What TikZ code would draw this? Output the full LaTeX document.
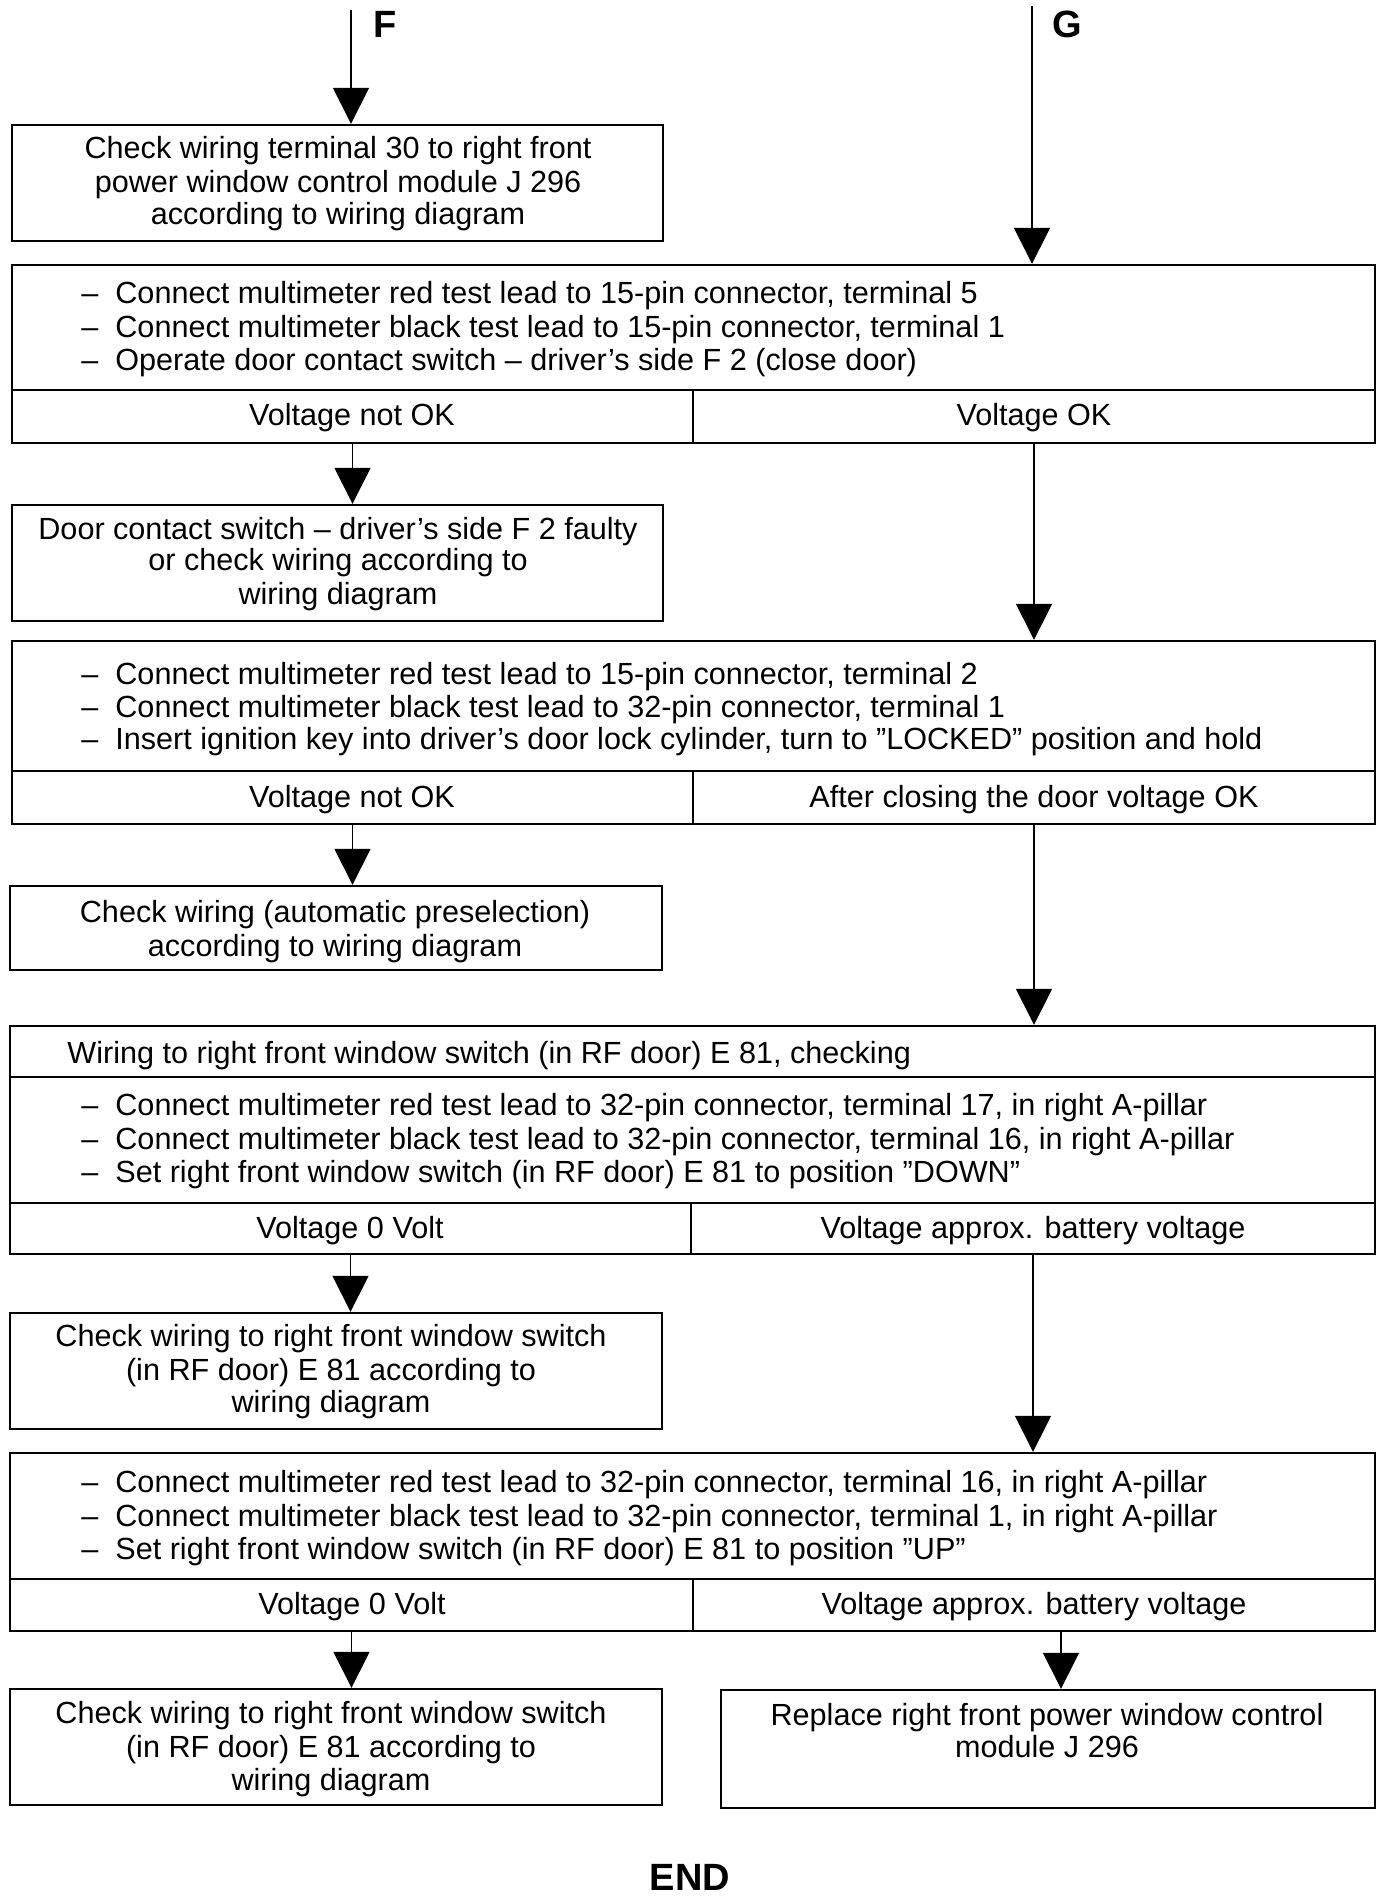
\documentclass[tikz,border=0pt]{standalone}
\usepackage{fontspec}
\setmainfont{Liberation Sans}
\usetikzlibrary{arrows.meta}
\newcommand{\bx}[5]{\node[box, minimum width={(#4-#2)*0.5pt}, minimum height={(#5-#3)*0.5pt}] (#1) at ({(#2+#4)/2},{(#3+#5)/2}) {};}
\newcommand{\tc}[4]{\node[txt, anchor=base] (#1) at (#2,#3) {#4};}
\newcommand{\tli}[3]{\node[txt, anchor=base west] (#1d) at (81,#2) {–};\node[txt, anchor=base west] (#1) at (115,#2) {#3};}
\begin{document}
\begin{tikzpicture}[x=0.5pt,y=-0.5pt,
  box/.style={draw, line width=1.2pt, inner sep=0pt, rectangle},
  txt/.style={inner sep=0pt, font=\fontsize{15.3}{18}\selectfont},
  lbl/.style={inner sep=0pt, font=\bfseries\fontsize{19}{22}\selectfont},
  flow/.style={line width=0.8pt, -{Triangle[width=18pt,length=18pt]}},
]
\useasboundingbox (0,0) rectangle (1392,1898);
% boxes
\bx{b1}{12}{125}{663}{241}
\bx{b2}{12}{265}{1375}{390}
\bx{b2l}{12}{390}{693}{443}
\bx{b2r}{693}{390}{1375}{443}
\bx{b3}{12}{505}{663}{621}
\bx{b4}{12}{641}{1375}{771}
\bx{b4l}{12}{771}{693}{824}
\bx{b4r}{693}{771}{1375}{824}
\bx{b5}{10}{886}{662}{970}
\bx{b6h}{10}{1026}{1375}{1077}
\bx{b6}{10}{1077}{1375}{1203}
\bx{b6l}{10}{1203}{691}{1254}
\bx{b6r}{691}{1203}{1375}{1254}
\bx{b7}{10}{1313}{662}{1429}
\bx{b8}{10}{1453}{1375}{1579}
\bx{b8l}{10}{1579}{693}{1631}
\bx{b8r}{693}{1579}{1375}{1631}
\bx{b9}{10}{1689}{662}{1805}
\bx{b10}{721}{1690}{1375}{1808}
% texts
\tc{t1a}{338}{159}{Check wiring terminal 30 to right front}
\tc{t1b}{338}{193}{power window control module J 296}
\tc{t1c}{338}{225}{according to wiring diagram}
\tli{t2a}{304}{Connect multimeter red test lead to 15-pin connector, terminal 5}
\tli{t2b}{338}{Connect multimeter black test lead to 15-pin connector, terminal 1}
\tli{t2c}{371}{Operate door contact switch – driver’s side F 2 (close door)}
\tc{t2l}{352}{426}{Voltage not OK}
\tc{t2r}{1034}{426}{Voltage OK}
\tc{t3a}{338}{539}{Door contact switch – driver’s side F 2 faulty}
\tc{t3b}{338}{571}{or check wiring according to}
\tc{t3c}{338}{604}{wiring diagram}
\tli{t4a}{684}{Connect multimeter red test lead to 15-pin connector, terminal 2}
\tli{t4b}{717}{Connect multimeter black test lead to 32-pin connector, terminal 1}
\tli{t4c}{749}{Insert ignition key into driver’s door lock cylinder, turn to ”LOCKED” position and hold}
\tc{t4l}{352}{807}{Voltage not OK}
\tc{t4r}{1034}{807}{After closing the door voltage OK}
\tc{t5a}{335}{922}{Check wiring (automatic preselection)}
\tc{t5b}{335}{956}{according to wiring diagram}
\node[txt, anchor=base west] (t6h) at (67,1063) {Wiring to right front window switch (in RF door) E 81, checking};
\tli{t6a}{1115}{Connect multimeter red test lead to 32-pin connector, terminal 17, in right A-pillar}
\tli{t6b}{1149}{Connect multimeter black test lead to 32-pin connector, terminal 16, in right A-pillar}
\tli{t6c}{1182}{Set right front window switch (in RF door) E 81 to position ”DOWN”}
\tc{t6l}{350}{1238}{Voltage 0 Volt}
\tc{t6r}{1033}{1238}{Voltage approx. battery voltage}
\tc{t7a}{331}{1346}{Check wiring to right front window switch}
\tc{t7b}{331}{1380}{(in RF door) E 81 according to}
\tc{t7c}{331}{1412}{wiring diagram}
\tli{t8a}{1492}{Connect multimeter red test lead to 32-pin connector, terminal 16, in right A-pillar}
\tli{t8b}{1526}{Connect multimeter black test lead to 32-pin connector, terminal 1, in right A-pillar}
\tli{t8c}{1559}{Set right front window switch (in RF door) E 81 to position ”UP”}
\tc{t8l}{352}{1614}{Voltage 0 Volt}
\tc{t8r}{1034}{1614}{Voltage approx. battery voltage}
\tc{t9a}{331}{1723}{Check wiring to right front window switch}
\tc{t9b}{331}{1757}{(in RF door) E 81 according to}
\tc{t9c}{331}{1790}{wiring diagram}
\tc{t10a}{1047}{1725}{Replace right front power window control}
\tc{t10b}{1047}{1757}{module J 296}
\node[lbl, anchor=base] (endl) at (690,1890) {END};
\node[lbl, anchor=base] (fl) at (385,38) {F};
\node[lbl, anchor=base] (gl) at (1067,38) {G};
% connectors
\coordinate (Fs) at (351,10);
\coordinate (Gs) at (1032,6);
\draw[flow] (Fs) -- (Fs |- b1.north);
\draw[flow] (Gs) -- (Gs |- b2.north);
\draw[flow] (b2l.south) -- (b2l.south |- b3.north);
\draw[flow] (b2r.south) -- (b2r.south |- b4.north);
\draw[flow] (b4l.south) -- (b4l.south |- b5.north);
\draw[flow] (b4r.south) -- (b4r.south |- b6h.north);
\draw[flow] (b6l.south) -- (b6l.south |- b7.north);
\draw[flow] (b6r.south) -- (b6r.south |- b8.north);
\draw[flow] (b8l.south) -- (b8l.south |- b9.north);
\coordinate (a10) at (1061,1631);
\draw[flow] (a10) -- (a10 |- b10.north);
\end{tikzpicture}
\end{document}
